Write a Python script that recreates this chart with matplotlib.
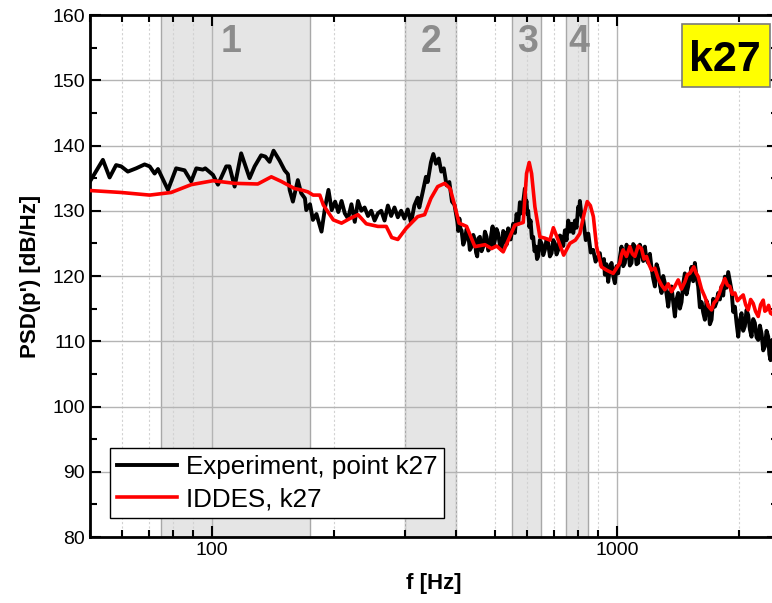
import matplotlib
matplotlib.use("Agg")
import matplotlib.pyplot as plt
from matplotlib.patches import Rectangle
from matplotlib.ticker import FixedLocator, NullFormatter, FuncFormatter, MultipleLocator

plt.rcParams['font.family'] = ['Liberation Sans', 'DejaVu Sans']

# ---- data ----
exp_f = [50, 53.8, 55.9, 58.0, 59.7, 62.0, 65.0, 68.2, 70.2, 72.2, 73.6, 77.9, 81.6, 85.6, 88.9,
         91.5, 95.0, 96.3, 100.6, 103.5, 108.5, 110.5, 113.8, 118.1, 123.9, 127.5, 132.3, 135.5,
         138.8, 142.0, 146.9, 151.2, 154.1, 155.6, 158.5, 163.0, 166.1, 169.7, 171.0, 174.7, 177.6,
         181.2, 186.5, 190.4, 194.0, 197.6, 201.5, 205.2, 209.0, 212.9, 216.9, 221.1, 225.3, 229.5,
         233.9, 238.3, 242.9, 247.5, 252.2, 257.0, 261.9, 266.9, 272.0, 277.1, 282.4, 287.8, 293.3,
         298.8, 304.5, 310.3, 316.2, 322.2, 325.2, 331.4, 337.7, 341.0, 347.4, 352.2, 357.6, 363.3,
         368.5, 373.8, 379.7, 385.8, 391.6, 397.3,
         403.8, 406.0, 408.5, 411.0, 413.5, 417.5, 421.4, 425.5, 429.4, 433.5, 437.8, 442.0, 446.1,
         449.0, 452.0, 455.5, 459.0, 463.3, 467.7, 472.3, 476.9, 481.4, 485.9, 489.6, 493.4, 496.6,
         499.9, 504.6, 509.3, 514.2, 519.2, 524.1, 529.1, 534.1, 539.1, 546.8, 554.6, 560.0, 565.4,
         570.8, 576.2, 580.6, 585.1, 588.9, 592.7, 595.5, 598.4, 601.2, 604.0, 608.1, 612.2, 616.8,
         621.4, 626.2, 631.0, 635.1, 639.3, 645.5, 651.8, 658.0, 664.1, 670.4, 676.8, 683.4, 690.0,
         696.5, 703.0, 709.6, 716.3, 723.3, 730.4, 737.3, 744.2, 751.3, 758.4, 765.8, 773.2, 780.5,
         787.8, 795.2, 802.6, 806.5, 810.4, 818.0, 826.0, 838.0, 850.0, 862.0, 874.0, 886.0, 899.0,
         907.8, 916.0, 925.0, 929.5, 933.9, 943.0, 951.9, 961.0, 970.2, 979.5, 988.8, 998.0, 1007.6,
         1017.0, 1026.9, 1036.7, 1046.6, 1056.6, 1066.6, 1076.8, 1087.0, 1097.4, 1107.8, 1118.4,
         1129.0, 1139.8, 1150.6, 1161.6, 1172.6, 1183.9, 1195.2, 1206.6, 1218.0, 1229.7, 1241.4,
         1253.3, 1265.2, 1277.3, 1289.4, 1301.7, 1314.0, 1326.6, 1339.2, 1351.9, 1364.6, 1377.7,
         1390.8, 1404.0, 1417.3, 1430.9, 1444.5, 1458.3, 1472.1, 1486.1, 1500.2, 1514.6, 1529.0,
         1543.6, 1558.2, 1573.0, 1588.0, 1603.3, 1618.6, 1634.0, 1649.5, 1665.2, 1681.0, 1697.0,
         1713.2, 1729.5, 1745.9, 1762.6, 1779.3, 1796.4, 1813.5, 1830.8, 1848.2, 1865.8, 1883.5,
         1901.5, 1919.5, 1938.0, 1956.5, 1975.0, 1993.8, 2012.8, 2031.8, 2051.0, 2070.6, 2090.5,
         2110.5, 2130.6, 2150.8, 2171.3, 2191.8, 2212.9, 2234.0, 2255.4, 2276.8, 2298.5, 2320.2,
         2342.5, 2364.9, 2380.0, 2396.0, 2418.0, 2440.0]
exp_db = [134.5, 137.8, 135.1, 137.0, 136.8, 136.0, 136.5, 137.1, 136.8, 135.7, 136.4, 133.2, 136.5,
          136.2, 134.5, 136.5, 136.3, 136.5, 135.5, 134.0, 136.8, 136.8, 133.7, 138.8, 135.0, 136.8,
          138.5, 138.3, 137.5, 139.2, 137.7, 136.2, 135.6, 133.2, 131.4, 134.7, 132.7, 131.9, 130.1,
          131.0, 128.6, 129.5, 126.8, 130.6, 133.2, 130.1, 131.4, 129.8, 131.5, 129.6, 128.8, 131.0,
          128.3, 131.5, 130.0, 130.5, 129.2, 130.0, 128.5, 129.6, 130.0, 128.5, 130.8, 129.2, 130.5,
          129.0, 130.0, 128.8, 130.2, 128.2, 130.8, 132.0, 130.5, 132.8, 135.2, 134.4, 137.4, 138.7,
          137.2, 138.0, 136.0, 136.5, 133.9, 134.4, 131.4, 130.9,
          128.3, 126.9, 128.8, 127.2, 127.0, 124.8, 125.5, 127.2, 126.5, 124.0, 124.5, 126.3, 125.5,
          123.6, 123.0, 125.8, 126.0, 123.8, 124.5, 126.8, 126.0, 123.9, 124.3, 126.4, 127.6, 124.6,
          125.5, 127.2, 126.5, 124.7, 124.0, 126.9, 126.5, 124.8, 127.3, 125.6, 128.0, 126.6, 129.5,
          128.0, 131.3, 129.6, 130.8, 132.0, 133.4, 131.0, 131.5, 129.5, 130.0, 127.5, 128.5, 125.8,
          126.0, 123.8, 124.5, 122.6, 123.0, 125.5, 125.0, 123.2, 124.0, 125.6, 125.0, 123.0, 123.5,
          125.5, 125.0, 123.3, 124.0, 126.2, 126.0, 124.6, 127.0, 125.5, 128.5, 126.8, 128.0, 126.6,
          128.5, 127.4, 130.6, 129.5, 131.5, 129.2, 128.6, 125.5, 126.5, 123.6, 124.0, 122.2, 123.0,
          123.5, 121.6, 121.4, 122.6, 120.2, 121.8, 119.1, 121.2, 122.0, 120.0, 118.9, 121.5, 120.4,
          122.8, 124.5, 121.5, 122.0, 124.8, 124.0, 121.6, 122.0, 124.9, 124.5, 121.8,
          122.0, 124.8, 124.0, 122.3, 124.5, 122.5, 122.0, 123.4, 121.2, 119.6, 118.4,
          121.8, 121.0, 118.6, 117.4, 120.0, 118.9, 117.2, 115.3, 117.5, 118.4, 116.0,
          113.8, 116.4, 117.4, 115.0, 116.0, 118.8, 120.4, 117.2, 118.4, 120.0, 121.4,
          119.2, 122.0, 119.8, 118.4, 115.2, 116.0, 114.4, 113.3, 116.2, 115.3, 112.6,
          113.3, 116.5, 115.3, 116.0, 117.4, 116.4, 118.4, 117.0, 119.9, 118.2, 120.6,
          119.2, 117.8, 114.5, 115.3, 112.8, 110.7, 113.2, 114.3, 111.6, 112.3, 114.8,
          114.0, 111.8, 110.7, 113.4, 112.8, 110.6, 110.2, 112.4, 111.2, 108.6, 109.2,
          111.6, 110.7, 108.0, 107.1, 110.2, 109.0]

sim_f = [50, 59.7, 70.2, 79.3, 88.9, 100.6, 113.8, 129.8, 140.2, 148.3, 160.0, 166.0, 172.5, 177.8,
         184.7, 188.4, 199.4, 209.0, 219.0, 229.5, 240.6, 257.0, 269.5, 278.0, 287.8, 301.7, 322.2,
         335.2, 347.4, 361.0, 375.7, 387.5, 397.3, 407.8, 425.5, 446.1, 472.3, 490.5, 504.7, 524.0,
         560.0, 587.2, 598.4, 607.5, 615.8, 627.5, 645.5, 664.1, 683.4, 697.0, 716.3, 739.0, 765.6,
         790.0, 810.0, 830.0, 845.0, 860.0, 875.0, 891.0, 916.0, 943.0, 979.3, 1017.0, 1027.0,
         1036.6, 1056.0, 1076.7, 1092.0, 1107.8, 1129.0, 1150.6, 1167.0, 1183.8, 1200.0, 1218.0,
         1241.0, 1265.2, 1289.0, 1314.0, 1339.0, 1364.6, 1390.0, 1417.3, 1444.0, 1472.1, 1493.0,
         1514.6, 1549.0, 1568.0, 1588.0, 1618.0, 1649.5, 1681.0, 1713.2, 1738.0, 1762.4, 1788.0,
         1813.5, 1848.2, 1875.0, 1901.2, 1928.0, 1956.5, 1985.0, 2012.6, 2051.2, 2080.0, 2110.5,
         2140.0, 2171.2, 2200.0, 2234.0, 2265.0, 2298.5, 2320.0, 2343.0, 2370.0, 2396.0, 2440.0]
sim_db = [133.1, 132.8, 132.4, 132.8, 134.0, 134.6, 134.2, 134.1, 135.2, 134.5, 133.4, 133.2, 132.9,
          132.4, 132.4, 130.9, 128.6, 128.1, 128.8, 129.4, 128.0, 127.6, 127.6, 125.9, 125.6, 127.3,
          129.1, 129.4, 131.9, 133.7, 134.2, 133.4, 130.9, 128.1, 127.6, 124.5, 124.8, 124.2, 124.6,
          123.7, 127.8, 128.2, 135.7, 137.4, 135.7, 130.6, 126.0, 125.8, 125.5, 127.4, 125.5, 123.2,
          125.0, 125.5, 126.5, 129.5, 131.4, 130.8, 129.1, 124.5, 121.4, 120.9, 120.4, 122.0, 123.3,
          124.0, 123.0, 124.5, 123.4, 123.0, 124.6, 124.2, 122.6, 123.0, 121.8, 120.9,
          121.2, 119.6, 118.6, 117.9, 118.8, 117.6, 118.4, 119.4, 118.0, 119.1, 120.2,
          120.4, 121.4, 120.5, 119.9, 118.0, 116.8, 115.4, 114.8, 115.9, 116.3, 117.2,
          118.4, 119.6, 118.6, 118.4, 117.2, 117.4, 116.2, 116.6, 117.1, 115.6, 114.8,
          116.4, 115.8, 114.6, 113.8, 115.6, 116.3, 114.6, 114.8, 115.5, 114.3, 114.0]

bands_lo = [75, 300, 550, 750]
bands_hi = [175, 400, 650, 850]
band_labels = ['1', '2', '3', '4']
band_label_f = [111.8, 348.7, 600.7, 807.0]

x_ticks = [100, 1000]
y_ticks = [80, 90, 100, 110, 120, 130, 140, 150, 160]

# ---- figure ----
fig = plt.figure(figsize=(7.72, 6.03), dpi=100)
ax = fig.add_axes([90 / 772, 1 - 537 / 603, (778 - 90) / 772, (537 - 15) / 603])
ax.set_xscale('log')
ax.set_xlim(50, 2500)
ax.set_ylim(80, 160)

for lo, hi in zip(bands_lo, bands_hi):
    ax.axvspan(lo, hi, facecolor='#e5e5e5', edgecolor='#a8a8a8', linewidth=1.0, zorder=0)

ax.xaxis.set_major_locator(FixedLocator(x_ticks))
minor = [m * d for d in (10, 100, 1000) for m in range(2, 10)]
ax.xaxis.set_minor_locator(FixedLocator(minor))
ax.xaxis.set_major_formatter(FuncFormatter(lambda v, p: f"{int(v)}"))
ax.xaxis.set_minor_formatter(NullFormatter())
ax.yaxis.set_major_locator(FixedLocator(y_ticks))
ax.yaxis.set_minor_locator(MultipleLocator(5))

ax.grid(which='major', axis='both', color='#b4b4b4', linewidth=1.0, zorder=0.5)
ax.grid(which='minor', axis='x', color='#d2d2d2', linewidth=0.8, linestyle=(0, (2, 2)), zorder=0.5)
ax.set_axisbelow(True)

ax.tick_params(which='both', direction='in', top=True, right=True, width=1.5, labelsize=14)
ax.tick_params(which='major', length=8)
ax.tick_params(which='minor', length=5)
for s in ax.spines.values():
    s.set_linewidth(2)

l1, = ax.plot(exp_f, exp_db, color='black', linewidth=2.8, label='Experiment, point k27', zorder=3)
l2, = ax.plot(sim_f, sim_db, color='#ff0000', linewidth=2.6, label='IDDES, k27', zorder=4)

for lab, fx in zip(band_labels, band_label_f):
    ax.text(fx, 155.9, lab, ha='center', va='center', fontsize=27, fontweight='bold',
            color='#8c8c8c', zorder=2)

ax.set_xlabel('f [Hz]', fontsize=16, fontweight='bold', labelpad=10)
ax.set_ylabel("PSD(p') [dB/Hz]", fontsize=16, fontweight='bold', labelpad=8)

leg = ax.legend(handles=[l1, l2], loc='lower left', bbox_to_anchor=(0.029, 0.036), borderaxespad=0,
                fontsize=18.7, fancybox=False, framealpha=1, edgecolor='black', handlelength=2.3,
                handletextpad=0.35, borderpad=0.27, labelspacing=0.3)
leg.get_frame().set_linewidth(1.0)

# k27 tag box
fig.patches.append(Rectangle((682 / 772, 1 - 87 / 603), 88 / 772, 63 / 603, transform=fig.transFigure,
                             facecolor='#ffff00', edgecolor='#7a7a7a', linewidth=1.2, zorder=5))
fig.text(725 / 772, 1 - 71 / 603, 'k27', ha='center', va='baseline', fontsize=31, fontweight='bold',
         color='black', zorder=6)

fig.savefig('out.png', dpi=100)
